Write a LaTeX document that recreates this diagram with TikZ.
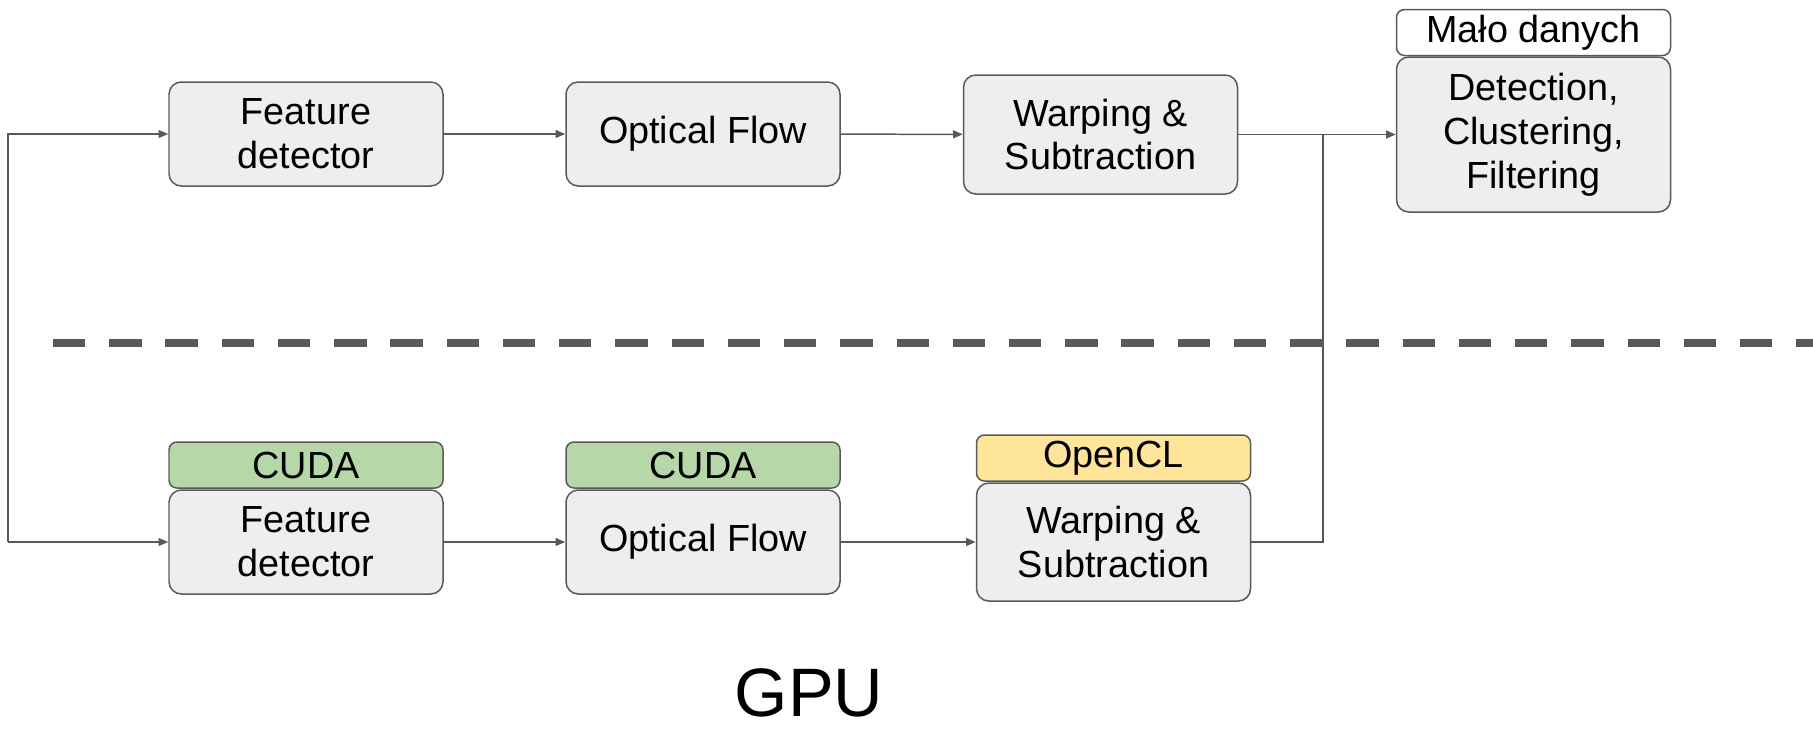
\documentclass[tikz,border=0pt]{standalone}
\usepackage{fontspec}
\setmainfont{Liberation Sans}
\usetikzlibrary{arrows.meta}
\definecolor{boxgrey}{HTML}{EEEEEE}
\definecolor{edgegrey}{HTML}{595959}
\definecolor{cudagreen}{HTML}{B6D7A8}
\definecolor{oclyellow}{HTML}{FFE599}

\begin{document}
\begin{tikzpicture}[
    every node/.style={rectangle, rounded corners=7pt, draw=edgegrey, line width=0.85pt, fill=boxgrey, minimum width=5.48cm, inner sep=0pt, align=center, font=\fontsize{21.5}{25}\selectfont},
    tag/.style={minimum height=0.92cm, rounded corners=4.5pt},
    flow/.style={draw=edgegrey, line width=0.85pt, -{Triangle[length=5.5pt,width=4.5pt]}}
]
\useasboundingbox (0,0) rectangle (36.26,-14.6);

% ---- CPU (top) ----
\node[minimum height=2.08cm] (fd1) at (6.12,-2.68) {Feature\\detector};
\node[minimum height=2.08cm] (of1) at (14.06,-2.68) {Optical Flow};
\node[minimum height=2.38cm] (ws1) at (22.01,-2.69) {Warping \&\\Subtraction};
\node[minimum height=3.1cm] (det) at (30.67,-2.69) {Detection,\\Clustering,\\Filtering};
\node[tag, fill=white] (malo) at (30.67,-0.65) {Mało danych};

% ---- separator ----
\draw[edgegrey, line width=4.5pt, dash pattern=on 18.4pt off 13.6pt] (1.06,-6.86) -- (36.26,-6.86);

% ---- GPU (bottom) ----
\node[tag, fill=cudagreen] (cuda1) at (6.12,-9.3) {CUDA};
\node[minimum height=2.08cm] (fd2) at (6.12,-10.84) {Feature\\detector};
\node[tag, fill=cudagreen] (cuda2) at (14.06,-9.3) {CUDA};
\node[minimum height=2.08cm] (of2) at (14.06,-10.84) {Optical Flow};
\node[tag, fill=oclyellow] (ocl) at (22.27,-9.16) {OpenCL};
\node[minimum height=2.36cm] (ws2) at (22.27,-10.84) {Warping \&\\Subtraction};
\node[draw=none, fill=none, font=\fontsize{39}{44}\selectfont] (gpu) at (16.18,-13.85) {GPU};

% ---- connectors ----
\coordinate (split) at (0.16,-10.84);
\coordinate (merge) at (26.46,-2.69);
\draw[flow] (split) |- (fd1.west);
\draw[flow] (split) -- (fd2.west);
\draw[flow] (fd1) -- (of1); \draw[flow] (of1) -- (ws1); \draw[flow] (ws1) -- (det);
\draw[flow] (fd2) -- (of2); \draw[flow] (of2) -- (ws2);
\draw[edgegrey, line width=0.85pt] (ws2.east) -| (merge);
\end{tikzpicture}
\end{document}
